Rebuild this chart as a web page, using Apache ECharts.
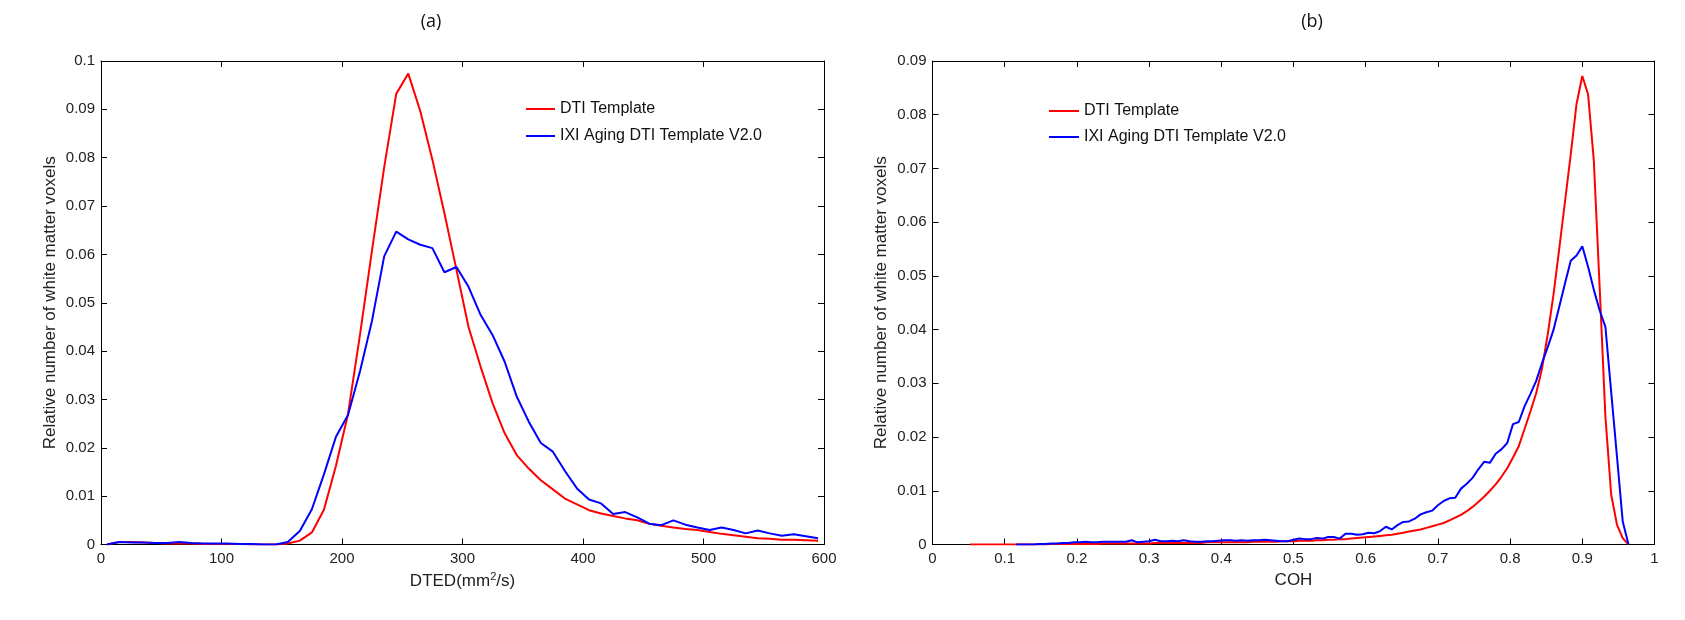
<!DOCTYPE html>
<html>
<head>
<meta charset="utf-8">
<script src="https://cdn.jsdelivr.net/npm/echarts@6/dist/echarts.min.js"></script>
<style>
html,body{margin:0;padding:0;background:#fff;}
#chart{width:1685px;height:620px;}
</style>
</head>
<body>
<div id="chart"></div>
<script>
// ---- Panel (a): DTED ----
var dtedX = [5,15,25,35,45,55,65,75,85,95,105,115,125,135,145,155,165,175,185,195,
  205,215,225,235,245,255,265,275,285,295,305,315,325,335,345,355,365,375,385,395,
  405,415,425,435,445,455,465,475,485,495,505,515,525,535,545,555,565,575,585,595];
var dtedTemplate = [0,0.0005,0.0005,0.0004,0.0003,0.0002,0.0002,0.0002,0.0001,0.0001,
  0.0001,0.0001,0,0,0,0.0002,0.0008,0.0025,0.0072,0.0163,
  0.027,0.0435,0.061,0.078,0.0932,0.0974,0.0896,0.0796,0.0685,0.0568,
  0.045,0.0368,0.0292,0.023,0.0185,0.0157,0.0133,0.0114,0.0095,0.0083,
  0.0071,0.0064,0.0059,0.0054,0.005,0.0043,0.0039,0.0035,0.0032,0.003,
  0.0026,0.0022,0.0019,0.0016,0.0013,0.0012,0.001,0.001,0.0009,0.0008];
var dtedIXI = [0,0.0005,0.0004,0.0004,0.0003,0.0003,0.0005,0.0003,0.0002,0.0002,
  0.0002,0.0001,0.0001,0,0,0.0005,0.0028,0.0073,0.0145,0.0223,
  0.0268,0.0359,0.0464,0.0596,0.0647,0.0631,0.062,0.0613,0.0563,0.0574,
  0.0533,0.0475,0.0433,0.0378,0.0306,0.0254,0.021,0.0192,0.0152,0.0116,
  0.0093,0.0085,0.0063,0.0067,0.0056,0.0043,0.004,0.005,0.0041,0.0035,
  0.003,0.0035,0.003,0.0023,0.0029,0.0023,0.0018,0.0021,0.0017,0.0013];

// ---- Panel (b): COH ----
var cohX = [0.052,0.06,0.068,0.076,0.084,0.092,0.1,0.108,0.116,0.124,0.132,0.14,0.148,0.156,
  0.164,0.172,0.18,0.188,0.196,0.204,0.212,0.22,0.228,0.236,0.244,0.252,0.26,0.268,0.276,0.284,
  0.292,0.3,0.308,0.316,0.324,0.332,0.34,0.348,0.356,0.364,0.372,0.38,0.388,0.396,0.404,0.412,
  0.42,0.428,0.436,0.444,0.452,0.46,0.468,0.476,0.484,0.492,0.5,0.508,0.516,0.524,0.532,0.54,
  0.548,0.556,0.564,0.572,0.58,0.588,0.596,0.604,0.612,0.62,0.628,0.636,0.644,0.652,0.66,0.668,
  0.676,0.684,0.692,0.7,0.708,0.716,0.724,0.732,0.74,0.748,0.756,0.764,0.772,0.78,0.788,0.796,
  0.804,0.812,0.82,0.828,0.836,0.844,0.852,0.86,0.868,0.876,0.884,0.892,0.9,0.908,0.916,0.924,
  0.932,0.94,0.948,0.956,0.964];
var cohTemplate = [0,0,0,0,0,0,0,0,0,0,0,0,0,0,
  0.0001,0.0001,0.0001,0.0001,0.0001,0.0001,0.0001,0.0001,0.0001,
  0.0002,0.0002,0.0002,0.0002,0.0002,0.0002,0.0002,0.0002,0.0002,
  0.0003,0.0003,0.0003,0.0003,0.0003,0.0003,0.0003,0.0003,0.0003,
  0.0004,0.0004,0.0004,0.0004,0.0004,0.0004,0.0004,0.0004,
  0.0005,0.0005,0.0005,0.0005,0.0005,
  0.0006,0.0006,0.0006,0.0007,0.0007,0.0007,0.0008,0.0008,0.0009,0.0009,0.001,0.001,
  0.0011,0.0012,0.0013,0.0014,0.0015,0.0016,0.0017,0.0018,0.002,0.0022,
  0.0024,0.0026,0.0028,0.0031,0.0034,0.0037,0.004,0.0045,0.005,0.0055,
  0.0062,0.007,0.0079,0.0089,0.01,0.0112,0.0126,0.0142,0.0162,0.0183,
  0.0215,0.0247,0.0281,0.0326,0.039,0.0464,0.055,0.0638,0.0726,0.082,
  0.0872,0.0838,0.0714,0.048,0.0238,0.0093,0.0037,0.0012,0];
var cohIXI = [null,null,null,null,null,null,null,null,
  0,0,0,0,0.0001,0.0001,0.0002,0.0002,0.0003,0.0003,
  0.0004,0.0004,0.0005,0.0004,0.0004,0.0005,0.0005,0.0005,0.0005,0.0005,
  0.0008,0.0004,0.0005,0.0006,0.0009,0.0006,0.0006,0.0007,0.0006,0.0008,
  0.0006,0.0005,0.0005,0.0006,0.0006,0.0007,0.0008,0.0008,0.0007,0.0008,
  0.0007,0.0008,0.0008,0.0009,0.0008,0.0007,
  0.0006,0.0006,0.0009,0.0011,0.001,0.001,0.0012,0.0011,0.0014,0.0014,
  0.0011,0.002,0.002,0.0018,0.0019,0.0022,0.0021,0.0025,0.0033,0.0028,
  0.0036,0.0042,0.0043,0.0048,0.0056,0.006,0.0063,0.0073,0.0081,0.0086,
  0.0087,0.0104,0.0113,0.0124,0.014,0.0154,0.0152,0.0169,0.0177,0.0189,
  0.0224,0.0228,0.0257,0.028,0.0304,
  0.0337,0.0367,0.0399,0.0442,0.0486,0.0528,0.0538,0.0555,0.0517,0.0474,
  0.0436,0.0405,0.0284,0.0164,0.0043,0];

var names = ['DTI Template', 'IXI Aging DTI Template V2.0'];
var titles = ['(a)', '(b)'];

function pairs(xs, ys) {
  var out = [];
  for (var i = 0; i < xs.length; i++) { if (ys[i] !== null) out.push([xs[i], ys[i]]); }
  return out;
}

var FONT = "'Liberation Sans', Arial, Helvetica, sans-serif";
var tickFont = {fontFamily: FONT, fontSize: 15, color: '#222'};

function xAxisCfg(grid, min, max, interval, name, pos) {
  var top = pos === 'top';
  return {
    type: 'value', gridIndex: grid, min: min, max: max, interval: interval, position: pos,
    name: top ? '' : name, nameLocation: 'middle', nameGap: 27,
    nameTextStyle: {fontFamily: FONT, fontSize: 17, color: '#222',
      rich: {sup: {fontFamily: FONT, fontSize: 11, color: '#222', verticalAlign: 'bottom', padding: [0,0,9,0]}}},
    axisLine: {show: true, onZero: false, lineStyle: {color: '#000', width: 1}},
    axisTick: {show: true, inside: true, length: 6, lineStyle: {color: '#000'}},
    axisLabel: Object.assign({show: !top, margin: 7}, tickFont),
    splitLine: {show: false}
  };
}
function yAxisCfg(grid, min, max, interval, pos, gap) {
  var right = pos === 'right';
  return {
    type: 'value', gridIndex: grid, min: min, max: max, interval: interval, position: pos,
    name: right ? '' : 'Relative number of white matter voxels', nameLocation: 'middle', nameGap: gap,
    nameTextStyle: {fontFamily: FONT, fontSize: 17, color: '#222'},
    axisLine: {show: true, onZero: false, lineStyle: {color: '#000', width: 1}},
    axisTick: {show: true, inside: true, length: 6, lineStyle: {color: '#000'}},
    axisLabel: Object.assign({show: !right, margin: 6}, tickFont),
    splitLine: {show: false}
  };
}

var legendText = {fontFamily: FONT, fontSize: 16, lineHeight: 16, color: '#111'};

var chart = echarts.init(document.getElementById('chart'), null, {renderer: 'canvas'});
var option = {
  backgroundColor: '#fff',
  animation: false,
  title: [
    {text: titles[0], left: 431, top: 13, textAlign: 'center', padding: 0,
     textStyle: {fontFamily: "'Open Sans', sans-serif", fontSize: 18, fontWeight: 'normal', color: '#111'}},
    {text: titles[1], left: 1312, top: 13, textAlign: 'center', padding: 0,
     textStyle: {fontFamily: "'Open Sans', sans-serif", fontSize: 18, fontWeight: 'normal', color: '#111'}}
  ],
  grid: [
    {left: 101, top: 61, width: 723, height: 483.5, show: false},
    {left: 932.5, top: 61, width: 722, height: 483.5, show: false}
  ],
  legend: [
    {left: 526, top: 101, padding: 0, orient: 'vertical', icon: 'rect', itemWidth: 29, itemHeight: 2, itemGap: 11,
     data: names, textStyle: legendText, selectedMode: false},
    {left: 1049, top: 103, padding: 0, orient: 'vertical', icon: 'rect', itemWidth: 30, itemHeight: 2, itemGap: 10,
     data: names, textStyle: legendText, selectedMode: false}
  ],
  xAxis: [
    xAxisCfg(0, 0, 600, 100, 'DTED(mm{sup|2}/s)', 'bottom'),
    xAxisCfg(1, 0, 1, 0.1, 'COH', 'bottom'),
    xAxisCfg(0, 0, 600, 100, '', 'top'),
    xAxisCfg(1, 0, 1, 0.1, '', 'top')
  ],
  yAxis: [
    yAxisCfg(0, 0, 0.1, 0.01, 'left', 42),
    yAxisCfg(1, 0, 0.09, 0.01, 'left', 43),
    yAxisCfg(0, 0, 0.1, 0.01, 'right', 0),
    yAxisCfg(1, 0, 0.09, 0.01, 'right', 0)
  ],
  series: [
    {name: names[0], type: 'line', xAxisIndex: 0, yAxisIndex: 0, symbol: 'none', data: pairs(dtedX, dtedTemplate),
     lineStyle: {color: '#ff0000', width: 2}, itemStyle: {color: '#ff0000'}, z: 3},
    {name: names[1], type: 'line', xAxisIndex: 0, yAxisIndex: 0, symbol: 'none', data: pairs(dtedX, dtedIXI),
     lineStyle: {color: '#0000ff', width: 2}, itemStyle: {color: '#0000ff'}, z: 4},
    {name: names[0], type: 'line', xAxisIndex: 1, yAxisIndex: 1, symbol: 'none', data: pairs(cohX, cohTemplate),
     lineStyle: {color: '#ff0000', width: 2}, itemStyle: {color: '#ff0000'}, z: 3},
    {name: names[1], type: 'line', xAxisIndex: 1, yAxisIndex: 1, symbol: 'none', data: pairs(cohX, cohIXI),
     lineStyle: {color: '#0000ff', width: 2}, itemStyle: {color: '#0000ff'}, z: 4}
  ]
};
chart.setOption(option);
</script>
</body>
</html>
